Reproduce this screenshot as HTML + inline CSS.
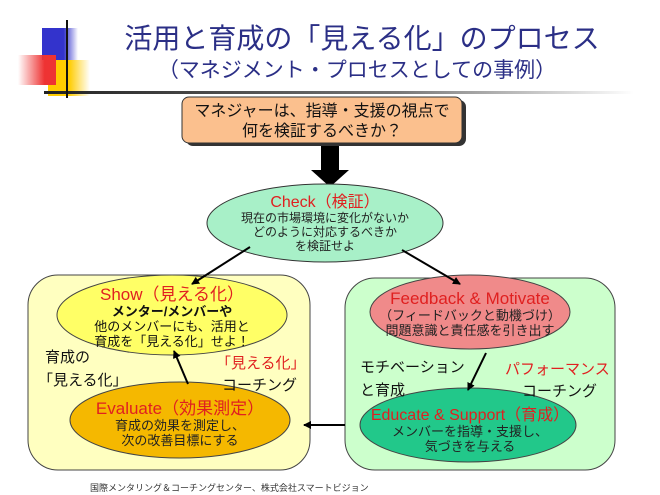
<!DOCTYPE html>
<html><head><meta charset="utf-8"><style>
body{margin:0;background:#fff;}
svg{display:block;font-family:"Liberation Sans","Noto Sans CJK JP",sans-serif;}
</style></head><body>
<svg width="660" height="495" viewBox="0 0 660 495" xmlns="http://www.w3.org/2000/svg">
<defs>
<linearGradient id="hl" x1="0" x2="1"><stop offset="0" stop-color="#222"/><stop offset="0.6" stop-color="#777"/><stop offset="1" stop-color="#fff"/></linearGradient>
<linearGradient id="bl" x1="0" x2="1"><stop offset="0.6" stop-color="#3333cc"/><stop offset="1" stop-color="#3333cc" stop-opacity="0"/></linearGradient>
<linearGradient id="rd" x1="1" x2="0"><stop offset="0.3" stop-color="#ee3333"/><stop offset="1" stop-color="#ee3333" stop-opacity="0"/></linearGradient>
<linearGradient id="yl" x1="0" x2="1"><stop offset="0.5" stop-color="#ffcc00"/><stop offset="1" stop-color="#ffcc00" stop-opacity="0"/></linearGradient>
<marker id="ah" markerWidth="8" markerHeight="8" refX="7" refY="4" orient="auto" markerUnits="userSpaceOnUse"><path d="M0,0 L8,4 L0,8z" fill="#000"/></marker>
</defs>
<rect x="42" y="28" width="36" height="32" fill="url(#bl)"/>
<rect x="48" y="60" width="42" height="36" fill="url(#yl)"/>
<rect x="18" y="55" width="38" height="30" fill="url(#rd)"/>
<rect x="44" y="91" width="590" height="3" fill="url(#hl)"/>
<rect x="66" y="20" width="2" height="78" fill="#111"/>
<text x="362" y="48" font-size="28" fill="#2b2f86" text-anchor="middle">活用と育成の「見える化」のプロセス</text>
<text x="357" y="77" font-size="21" fill="#2b2f86" text-anchor="middle">（マネジメント・プロセスとしての事例）</text>
<rect x="186" y="100" width="280" height="46" rx="7" fill="#333"/>
<rect x="182" y="97" width="280" height="46" rx="7" fill="#fbc08e" stroke="#333" stroke-width="1"/>
<text x="322" y="116" font-size="16" text-anchor="middle" fill="#111">マネジャーは、指導・支援の視点で</text>
<text x="322" y="136" font-size="16" text-anchor="middle" fill="#111">何を検証するべきか？</text>
<rect x="321" y="146" width="18" height="26" fill="#000"/>
<path d="M311,170 L349,170 L330,187z" fill="#000"/>
<ellipse cx="325" cy="223" rx="118" ry="39" fill="#a8f0c8" stroke="#333"/>
<text x="325" y="207" font-size="16" text-anchor="middle" fill="#e02020">Check（検証）</text>
<text x="325" y="222" font-size="12" text-anchor="middle" fill="#222">現在の市場環境に変化がないか</text>
<text x="325" y="236" font-size="12" text-anchor="middle" fill="#222">どのように対応するべきか</text>
<text x="325" y="250" font-size="12" text-anchor="middle" fill="#222">を検証せよ</text>
<rect x="28" y="275" width="282" height="195" rx="30" fill="#ffffc0" stroke="#444"/>
<rect x="345" y="278" width="270" height="192" rx="30" fill="#ccffcc" stroke="#444"/>
<ellipse cx="172" cy="315" rx="115" ry="40" fill="#ffff66" stroke="#444"/>
<text x="172" y="300" font-size="17" text-anchor="middle" fill="#e02020">Show（見える化）</text>
<text x="172" y="316" font-size="13" font-weight="bold" text-anchor="middle" fill="#111">メンター/メンバーや</text>
<text x="172" y="331" font-size="13" text-anchor="middle" fill="#111">他のメンバーにも、活用と</text>
<text x="172" y="346" font-size="13" text-anchor="middle" fill="#111">育成を「見える化」せよ！</text>
<ellipse cx="180" cy="420" rx="110" ry="38" fill="#f5b800" stroke="#444"/>
<text x="180" y="414" font-size="17" text-anchor="middle" fill="#e02020">Evaluate（効果測定）</text>
<text x="180" y="430" font-size="13" text-anchor="middle" fill="#222">育成の効果を測定し、</text>
<text x="180" y="445" font-size="13" text-anchor="middle" fill="#222">次の改善目標にする</text>
<ellipse cx="470" cy="312" rx="100" ry="37" fill="#f08a8a" stroke="#444"/>
<text x="470" y="304" font-size="17" text-anchor="middle" fill="#e02020">Feedback &amp; Motivate</text>
<text x="470" y="320" font-size="13" text-anchor="middle" fill="#222">（フィードバックと動機づけ）</text>
<text x="470" y="335" font-size="13" text-anchor="middle" fill="#222">問題意識と責任感を引き出す</text>
<ellipse cx="468" cy="425" rx="108" ry="37" fill="#22c88a" stroke="#444"/>
<text x="470" y="420" font-size="16" text-anchor="middle" fill="#e02020">Educate &amp; Support（育成）</text>
<text x="470" y="436" font-size="13" text-anchor="middle" fill="#222">メンバーを指導・支援し、</text>
<text x="470" y="451" font-size="13" text-anchor="middle" fill="#222">気づきを与える</text>
<g stroke="#000" stroke-width="2" marker-end="url(#ah)">
<line x1="250" y1="247" x2="192" y2="284"/>
<line x1="402" y1="250" x2="460" y2="284"/>
<line x1="188" y1="384" x2="174" y2="351"/>
<line x1="486" y1="353" x2="468" y2="390"/>
<line x1="345" y1="425" x2="304" y2="425"/>
</g>
<g font-size="15" fill="#111">
<text x="45" y="362">育成の</text>
<text x="38" y="385">「見える化」</text>
<text x="216" y="368" fill="#e02020">「見える化」</text>
<text x="222" y="390">コーチング</text>
<text x="360" y="372">モチベーション</text>
<text x="360" y="395">と育成</text>
<text x="505" y="374" fill="#e02020">パフォーマンス</text>
<text x="522" y="396">コーチング</text>
</g>
<text x="90" y="491" font-size="9" fill="#333">国際メンタリング＆コーチングセンター、株式会社スマートビジョン</text>
</svg>
</body></html>
